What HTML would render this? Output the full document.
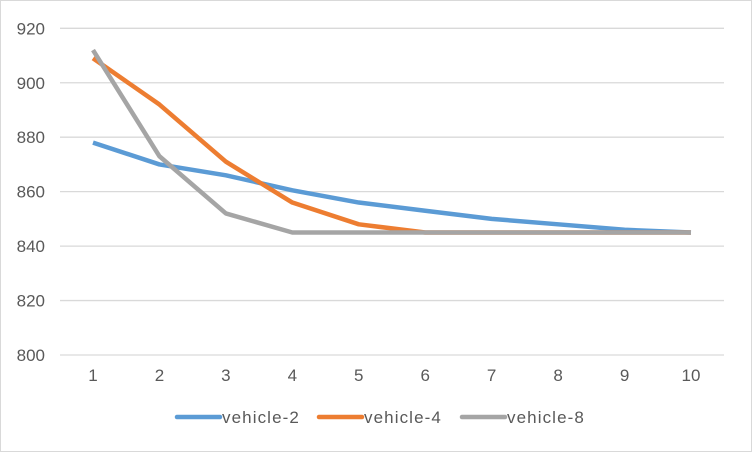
<!DOCTYPE html>
<html><head><meta charset="utf-8"><style>
body{margin:0;background:#fff;}
#c{position:absolute;left:0;top:0;width:750px;height:450px;border:1px solid #d9d9d9;}
text{font-family:"Liberation Sans",sans-serif;fill:#595959;font-size:17px;}
</style></head><body>
<div id="c">
<svg id="s" width="752" height="452"></svg>
</div>
<script>
const categories=[1,2,3,4,5,6,7,8,9,10];
const yTicks=[800,820,840,860,880,900,920];
const v2=[878,870,866,860.5,856,853,850,848,846,845];
const v4=[909,892,871,856,848,845,845,845,845,845];
const v8=[912,873,852,845,845,845,845,845,845,845];
const seriesNames=["vehicle-2","vehicle-4","vehicle-8"];
const colors=["#5b9bd5","#ed7d31","#a5a5a5"];
const NS="http://www.w3.org/2000/svg";
const svg=document.getElementById('s');
function X(i){return 92+i*(690-92)/9;}
function Y(v){return 354-(v-800)*(354-27.3)/120;}
function mk(t,a,p){const e=document.createElementNS(NS,t);for(const k in a)e.setAttribute(k,a[k]);(p||svg).appendChild(e);return e;}
yTicks.forEach(t=>{
 const l=mk('line',{x1:59,x2:723,y1:Y(t),y2:Y(t),stroke:'#d9d9d9','stroke-width':1.3});
 
 
 const tx=mk('text',{x:44,y:Y(t)+6,'text-anchor':'end'});tx.textContent=t;
 
 
});
categories.forEach((c,i)=>{
 const tx=mk('text',{x:X(i),y:380,'text-anchor':'middle'});tx.textContent=c;
 
 
});
[v2,v4,v8].forEach((d,si)=>{
 const p=mk('polyline',{points:d.map((v,i)=>X(i)+','+Y(v)).join(' '),fill:'none',stroke:colors[si],'stroke-width':4.5,'stroke-linejoin':'round'});
 
 
});
const lx=[176,318,461];
seriesNames.forEach((n,i)=>{
 const g=mk('g',{});
 
 
 mk('line',{x1:lx[i],x2:lx[i]+43,y1:416,y2:416,stroke:colors[i],'stroke-width':4.5,'stroke-linecap':'round'},g);
 const t=mk('text',{x:lx[i]+45,y:422,'letter-spacing':'1.1'},g);t.textContent=n;
});
</script>
</body></html>
